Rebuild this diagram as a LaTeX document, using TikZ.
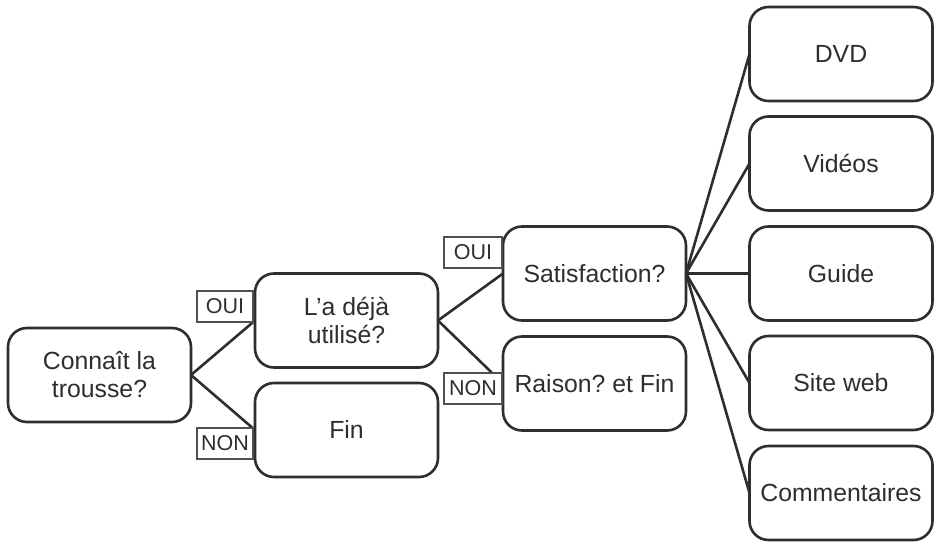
\documentclass[tikz,border=0pt]{standalone}
\usepackage{fontspec}
\setmainfont{Liberation Sans}
\frenchspacing
\definecolor{ink}{HTML}{2E2E2E}
\definecolor{tagline}{HTML}{505050}
\begin{document}
\begin{tikzpicture}[x=1pt,y=-1pt,
  box/.style={draw=ink, line width=2.6pt, rounded corners=19pt, fill=white,
    minimum width=183pt, minimum height=94pt, align=center, inner sep=0pt,
    outer sep=0pt, text=ink, font=\fontsize{24.8}{28}\selectfont},
  tag/.style={draw=tagline, line width=1.3pt, fill=white, minimum width=56pt,
    minimum height=31pt, inner sep=0pt, outer sep=0pt, text=ink,
    font=\fontsize{21.5}{24}\selectfont},
  link/.style={draw=ink, line width=2.6pt}]
\useasboundingbox (0,0) rectangle (934,543);

% decision boxes
\node[box] (con) at (99.5,375) {Connaît la\\trousse?};
\node[box] (deja) at (346.5,320.5) {L’a déjà\\utilisé?};
\node[box] (fin) at (346.5,430) {Fin};
\node[box] (sat) at (594.5,273.5) {Satisfaction?};
\node[box] (rai) at (594.5,383.5) {Raison? et Fin};

% resources column
\node[box] (dvd) at (841,54) {DVD};
\node[box] (vid) at (841,163.5) {Vidéos};
\node[box] (gui) at (841,273.5) {Guide};
\node[box] (web) at (841,383) {Site web};
\node[box] (com) at (841,493) {Commentaires};

% connectors
\draw[link] (con.east) -- (deja.west);
\draw[link] (con.east) -- (fin.west);
\draw[link] (deja.east) -- (sat.west);
\draw[link] (deja.east) -- (rai.west);
\foreach \t in {dvd,vid,gui,web,com}
  \draw[link] (sat.east) -- (\t.west);

% answer tags
\node[tag] (oui1) at (225,306.5) {OUI};
\node[tag] (non1) at (225,443.5) {NON};
\node[tag, minimum width=58pt] (oui2) at (473,252.5) {OUI};
\node[tag, minimum width=58pt] (non2) at (473,388.5) {NON};
\end{tikzpicture}
\end{document}
